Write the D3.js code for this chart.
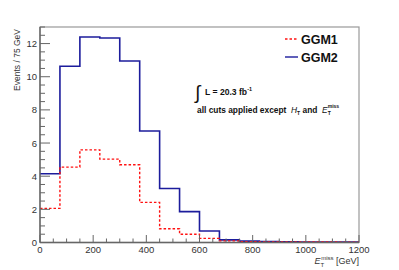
<!DOCTYPE html>
<html><head><meta charset="utf-8">
<script src="https://cdn.jsdelivr.net/npm/d3@7"></script>
<style>body{margin:0;background:#fff}svg{display:block}text{font-family:"Liberation Sans",Arial,sans-serif}</style>
</head><body>
<script>
const binEdges = [0,75,150,225,300,375,450,525,600,675,750,825,900,975,1050,1125,1200];
const ggm1 = [2.06,4.55,5.59,5.03,4.69,2.42,0.83,0.50,0.25,0.10,0.05,0.04,0.03,0.03,0.03,0.02];
const ggm2 = [4.15,10.63,12.40,12.34,10.95,6.73,3.26,1.86,0.69,0.16,0.08,0.06,0.04,0.03,0.02,0.02];
const xTicks = [0,200,400,600,800,1000,1200];
const yTicks = [0,2,4,6,8,10,12];
const seriesNames = ["GGM1","GGM2"];

const W=399,H=270;
const m={l:40,r:40,t:27,b:27.5};
const svg=d3.select("body").append("svg").attr("width",W).attr("height",H);
const x=d3.scaleLinear().domain([0,1200]).range([m.l,W-m.r]);
const y=d3.scaleLinear().domain([0,13]).range([H-m.b,m.t]);

svg.append("rect").attr("x",x(0)).attr("y",y(13)).attr("width",x(1200)-x(0)).attr("height",y(0)-y(13))
  .attr("fill","none").attr("stroke","#999").attr("stroke-width",1.2);

function stepPath(vals){
  let p="";
  vals.forEach((v,i)=>{
    const x0=x(binEdges[i]),x1=x(binEdges[i+1]),yy=y(v);
    p += (i===0?"M":"L")+x0+","+yy+"L"+x1+","+yy;
  });
  return p;
}
svg.append("path").attr("d",stepPath(ggm2)).attr("fill","none").attr("stroke","#1c1c9c").attr("stroke-width",1.6);
svg.append("path").attr("d",stepPath(ggm1)).attr("fill","none").attr("stroke","#ff1010").attr("stroke-width",1.4).attr("stroke-dasharray","2.5,2");

const xMinor=d3.range(0,1201,50);
const gx=svg.append("g").attr("transform",`translate(0,${y(0)})`);
gx.selectAll("line.mn").data(xMinor).join("line").attr("x1",d=>x(d)).attr("x2",d=>x(d))
  .attr("y1",0).attr("y2",d=>d%200===0?-7.5:-4).attr("stroke","#666").attr("stroke-width",1);
gx.append("line").attr("x1",x(0)).attr("x2",x(1200)).attr("stroke","#666").attr("stroke-width",1.4);
gx.selectAll("text").data(xTicks).join("text").attr("x",d=>x(d)).attr("y",10.5)
  .attr("text-anchor","middle").attr("font-size",9.5).attr("fill","#333").text(d=>d);

const yMinor=d3.range(0,13.01,0.5);
const gy=svg.append("g").attr("transform",`translate(${x(0)},0)`);
gy.selectAll("line").data(yMinor).join("line").attr("y1",d=>y(d)).attr("y2",d=>y(d))
  .attr("x1",0).attr("x2",d=>d%2===0?10:5).attr("stroke","#666").attr("stroke-width",1);
gy.append("line").attr("y1",y(0)).attr("y2",y(13)).attr("stroke","#666").attr("stroke-width",1.4);
gy.selectAll("text").data(yTicks).join("text").attr("x",-3).attr("y",d=>y(d)+3.5)
  .attr("text-anchor","end").attr("font-size",9.5).attr("fill","#333").text(d=>d);

svg.append("text").attr("transform",`translate(20,${m.t+2}) rotate(-90)`).attr("text-anchor","end")
  .attr("font-size",8.5).attr("fill","#333").text("Events / 75 GeV");
const xt=svg.append("text").attr("x",W-m.r).attr("y",264).attr("text-anchor","end").attr("font-size",9).attr("fill","#333");
xt.append("tspan").attr("font-style","italic").text("E");
xt.append("tspan").attr("font-size",6).attr("dy",2.5).text("T");
xt.append("tspan").attr("font-size",6).attr("dy",-7).attr("dx",-3).text("miss");
xt.append("tspan").attr("dy",4.5).text(" [GeV]");

const lg=[{n:seriesNames[0],c:"#ff1010",d:"2.5,2",yy:39},{n:seriesNames[1],c:"#1c1c9c",d:null,yy:57}];
lg.forEach(e=>{
  svg.append("line").attr("x1",285).attr("x2",298).attr("y1",e.yy).attr("y2",e.yy)
    .attr("stroke",e.c).attr("stroke-width",1.4).attr("stroke-dasharray",e.d);
  svg.append("text").attr("x",301).attr("y",e.yy+4.5).attr("font-size",12.5).attr("font-weight","bold").attr("fill","#111").text(e.n);
});

svg.append("text").attr("x",195).attr("y",99).attr("font-size",19).attr("fill","#111").text("\u222B");
const t1=svg.append("text").attr("x",205).attr("y",95).attr("font-size",8.6).attr("font-weight","bold").attr("fill","#111");
t1.append("tspan").text("L = 20.3 fb");
t1.append("tspan").attr("font-size",5.5).attr("dy",-4).text("-1");
const t2=svg.append("text").attr("x",197).attr("y",113).attr("font-size",8.4).attr("font-weight","bold").attr("fill","#111");
t2.append("tspan").text("all cuts applied except\u00A0\u00A0");
t2.append("tspan").attr("font-style","italic").attr("font-weight","normal").text("H");
t2.append("tspan").attr("font-size",5).attr("dy",2).text("T");
t2.append("tspan").attr("dy",-2).text(" and\u00A0\u00A0");
t2.append("tspan").attr("font-style","italic").attr("font-weight","normal").text("E");
t2.append("tspan").attr("font-size",5).attr("dy",2).text("T");
t2.append("tspan").attr("font-size",5).attr("dy",-7).attr("dx",-3).text("miss");
</script>
</body></html>
